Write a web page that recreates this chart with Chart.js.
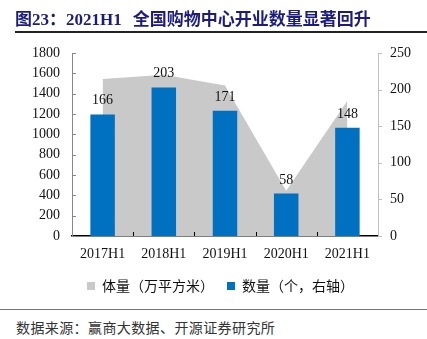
<!DOCTYPE html>
<html>
<head>
<meta charset="utf-8">
<script src="https://cdn.jsdelivr.net/npm/chart.js@4/dist/chart.umd.min.js"></script>
<style>
  body { margin: 0; background: #fff; }
  #wrap { position: relative; width: 427px; height: 339px; overflow: hidden; }
  #title {
    position: absolute; left: 15px; top: 10px; white-space: nowrap;
    font: bold 17px 'Liberation Serif', 'Noto Sans CJK SC', serif;
    line-height: 19px; color: #1b1b80;
  }
  #title .gap { display: inline-block; width: 11px; }
  #rule-top { position: absolute; left: 15px; right: 0; top: 31px; height: 1.5px; background: #222; }
  #rule-bottom { position: absolute; left: 0; right: 0; top: 308.5px; height: 1px; background: #777; }
  #source {
    position: absolute; left: 16px; top: 318px; white-space: nowrap;
    font: 14px 'Noto Sans CJK SC', sans-serif; letter-spacing: 0.4px; color: #333; line-height: 18px;
  }
  #chart-box { position: absolute; left: 0; top: 0; width: 427px; height: 309px; }
</style>
</head>
<body>
<div id="wrap">
  <div id="chart-box"><canvas id="chart"></canvas></div>
  <div id="title">图23：2021H1<span class="gap"></span>全国购物中心开业数量显著回升</div>
  <div id="rule-top"></div>
  <div id="rule-bottom"></div>
  <div id="source">数据来源：赢商大数据、开源证券研究所</div>
</div>
<script>
// 数据
const categories = ['2017H1', '2018H1', '2019H1', '2020H1', '2021H1'];
const areaValues = [1545, 1585, 1480, 445, 1330];   // 体量（万平方米）
const countValues = [166, 203, 171, 58, 148];       // 数量（个，右轴）
const seriesNames = ['体量（万平方米）', '数量（个，右轴）'];
const leftAxis = { min: 0, max: 1800, step: 200 };
const rightAxis = { min: 0, max: 250, step: 50 };

const serif = "'Liberation Serif', 'Times New Roman', serif";
const cjk = "'Noto Sans CJK SC', sans-serif";

// 刻度线（朝内）和柱子上方的数值
const extrasPlugin = {
  id: 'extras',
  afterDraw(chart) {
    const ctx = chart.ctx;
    const area = chart.chartArea;
    const yL = chart.scales.y;
    const yR = chart.scales.y1;
    const x = chart.scales.x;
    ctx.save();
    ctx.lineWidth = 1;

    ctx.strokeStyle = '#888';
    yL.ticks.forEach((t) => {
      const py = Math.round(yL.getPixelForValue(t.value)) + 0.5;
      ctx.beginPath(); ctx.moveTo(area.left, py); ctx.lineTo(area.left + 4, py); ctx.stroke();
    });

    ctx.strokeStyle = '#bfbfbf';
    yR.ticks.forEach((t) => {
      const py = Math.round(yR.getPixelForValue(t.value)) + 0.5;
      ctx.beginPath(); ctx.moveTo(area.right, py); ctx.lineTo(area.right + 4, py); ctx.stroke();
    });

    ctx.strokeStyle = '#000';
    for (let i = 0; i < categories.length - 1; i++) {
      const px = Math.round((x.getPixelForValue(i) + x.getPixelForValue(i + 1)) / 2) + 0.5;
      ctx.beginPath(); ctx.moveTo(px, area.bottom); ctx.lineTo(px, area.bottom - 4); ctx.stroke();
    }

    const meta = chart.getDatasetMeta(1);
    ctx.font = '14px ' + serif;
    ctx.fillStyle = '#111';
    ctx.textAlign = 'center';
    ctx.textBaseline = 'alphabetic';
    meta.data.forEach((bar, i) => ctx.fillText(String(countValues[i]), bar.x, bar.y - 10));
    ctx.restore();
  }
};

new Chart(document.getElementById('chart'), {
  data: {
    labels: categories,
    datasets: [
      {
        type: 'line',
        label: seriesNames[0],
        data: areaValues,
        yAxisID: 'y',
        fill: 'origin',
        backgroundColor: '#c9c9c9',
        borderColor: '#c9c9c9',
        borderWidth: 0,
        pointRadius: 0,
        tension: 0,
        order: 1
      },
      {
        type: 'bar',
        label: seriesNames[1],
        data: countValues,
        yAxisID: 'y1',
        backgroundColor: '#0070c0',
        categoryPercentage: 1,
        barPercentage: 0.4,
        order: 0
      }
    ]
  },
  options: {
    responsive: true,
    maintainAspectRatio: false,
    animation: false,
    layout: { padding: { top: 53, left: 14, right: 0, bottom: 6 } },
    plugins: {
      tooltip: { enabled: false },
      legend: {
        position: 'bottom',
        labels: {
          boxWidth: 8, boxHeight: 8, padding: 13,
          font: { family: cjk, size: 14 }, color: '#111',
          sort: (a, b) => a.datasetIndex - b.datasetIndex
        }
      }
    },
    scales: {
      x: {
        offset: true,
        grid: { display: false, drawTicks: false },
        border: { color: '#000', width: 1.5 },
        ticks: { font: { family: serif, size: 14 }, color: '#111', padding: 10, maxRotation: 0 },
        afterFit: (s) => { s.height = 30; }
      },
      y: {
        position: 'left',
        min: leftAxis.min, max: leftAxis.max,
        grid: { display: false, drawTicks: false },
        border: { color: '#888', width: 1 },
        ticks: {
          stepSize: leftAxis.step, autoSkip: false, callback: (v) => String(v),
          font: { family: serif, size: 14 }, color: '#111', padding: 12
        },
        afterFit: (s) => { s.width = 58; }
      },
      y1: {
        position: 'right',
        min: rightAxis.min, max: rightAxis.max,
        grid: { display: false, drawTicks: false },
        border: { color: '#bfbfbf', width: 1 },
        ticks: {
          stepSize: rightAxis.step, autoSkip: false, callback: (v) => String(v),
          font: { family: serif, size: 14 }, color: '#111', padding: 12
        },
        afterFit: (s) => { s.width = 49; }
      }
    }
  },
  plugins: [extrasPlugin]
});
</script>
</body>
</html>
